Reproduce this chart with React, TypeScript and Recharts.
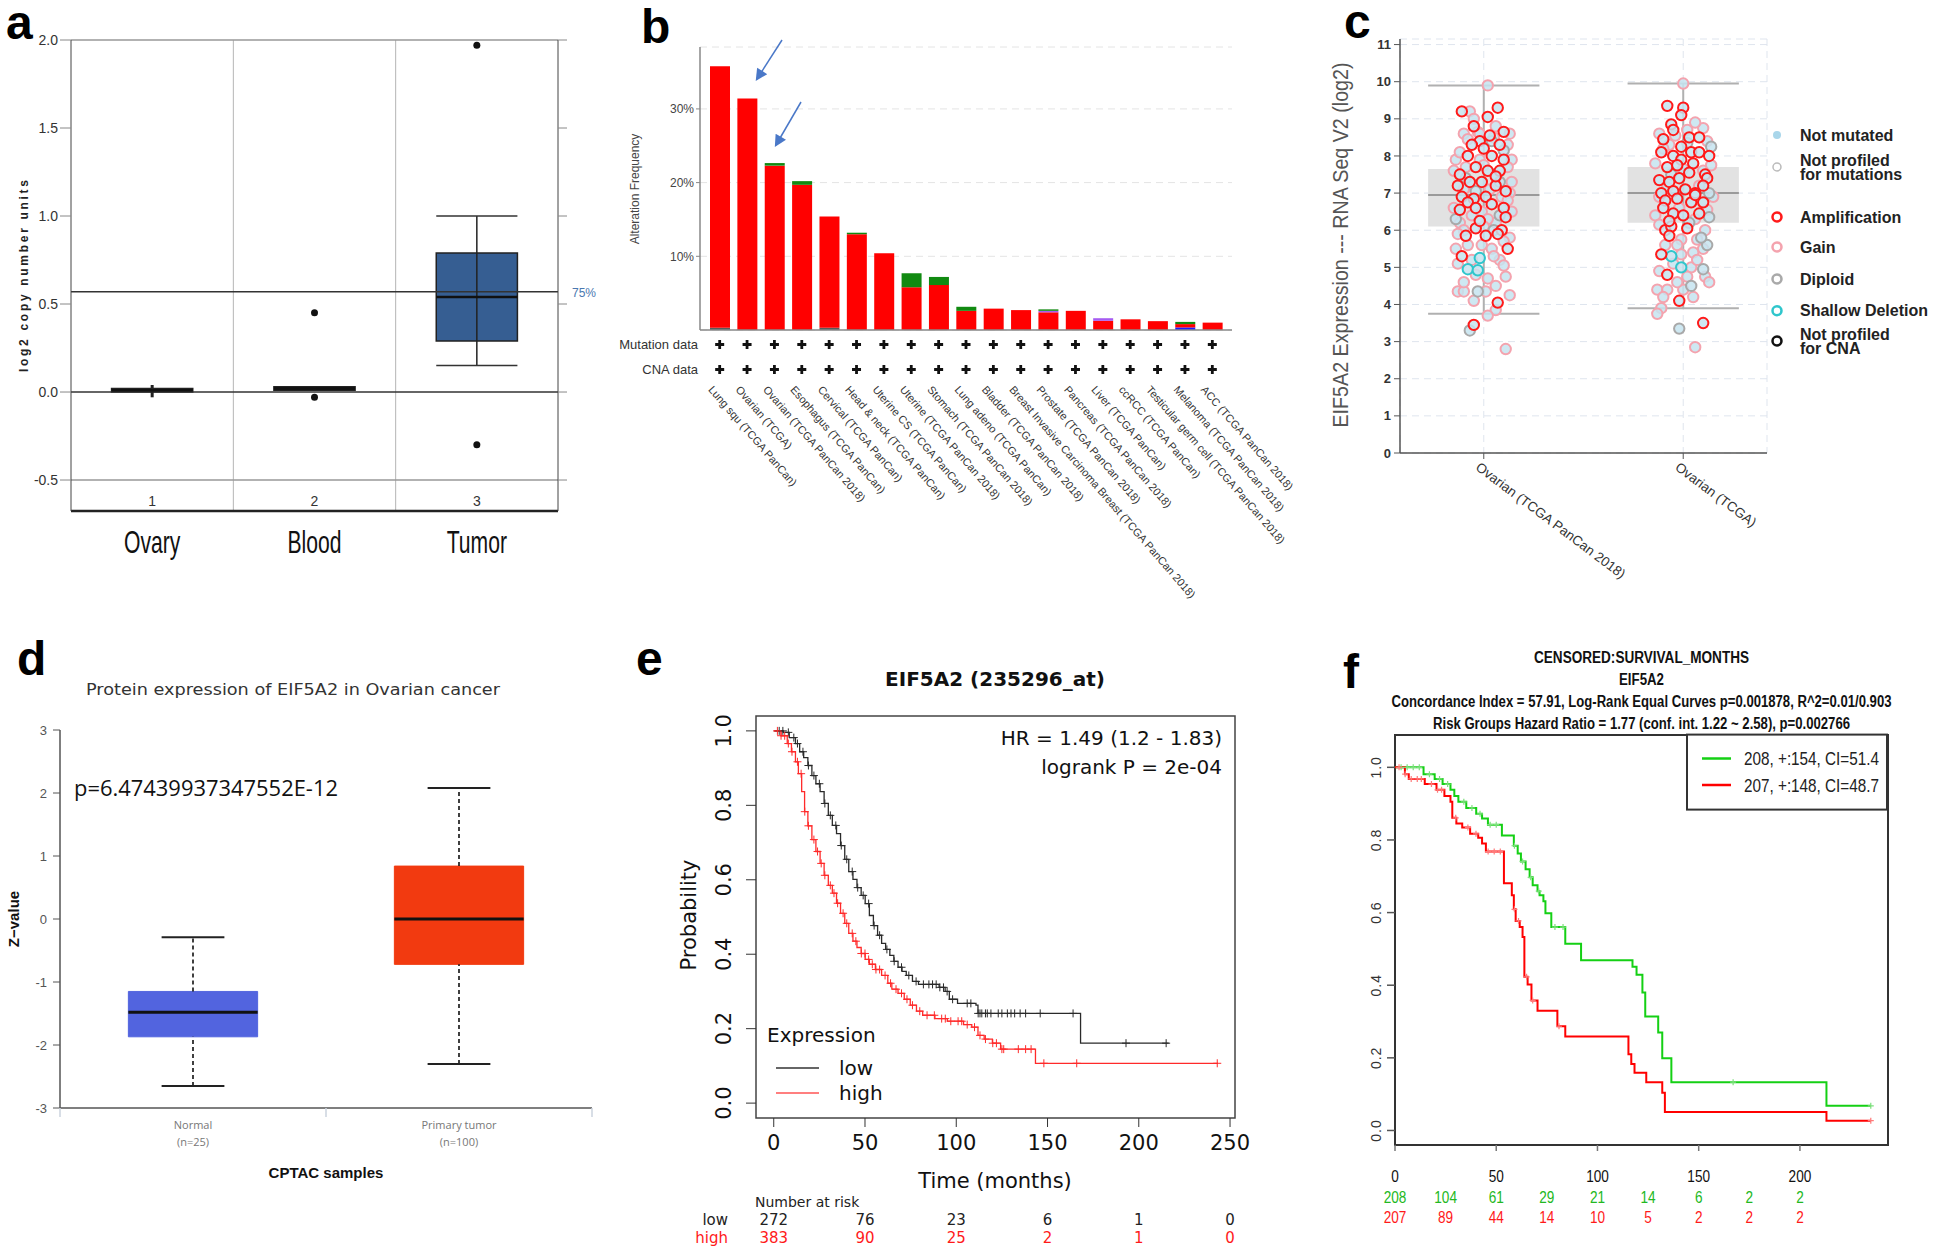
import React from 'react';
import {
  ComposedChart,
  BarChart,
  Bar,
  Line,
  Scatter,
  XAxis,
  YAxis,
  CartesianGrid,
  ReferenceLine,
  ReferenceArea,
} from 'recharts';

const SANS = '"Liberation Sans", Arial, sans-serif';
const DEJAVU = '"DejaVu Sans", sans-serif';
const OPEN = '"Open Sans", sans-serif';

// ---------- panel a : copy number boxplot ----------
const aGroups = ['Ovary', 'Blood', 'Tumor'];
const aTickNums = ['1', '2', '3'];
const aMin = [-0.03, 0.01, 0.15];
const aQ1 = [0.0, 0.01, 0.29];
const aMedian = [0.01, 0.02, 0.54];
const aQ3 = [0.02, 0.03, 0.79];
const aMax = [0.04, 0.03, 1.0];
const aOutlierGroup = [1, 1, 2, 2];
const aOutlierValue = [0.45, -0.03, 1.97, -0.3];
const aThreshold75 = 0.57;
const aYTicks = [-0.5, 0, 0.5, 1, 1.5, 2];

// ---------- panel b : alteration frequency ----------
const bStudies = [
  'Lung squ (TCGA PanCan)',
  'Ovarian (TCGA)',
  'Ovarian (TCGA PanCan 2018)',
  'Esophagus (TCGA PanCan)',
  'Cervical (TCGA PanCan)',
  'Head & neck (TCGA PanCan)',
  'Uterine CS (TCGA PanCan)',
  'Uterine (TCGA PanCan 2018)',
  'Stomach (TCGA PanCan 2018)',
  'Lung adeno (TCGA PanCan)',
  'Bladder (TCGA PanCan 2018)',
  'Breast Invasive Carcinoma Breast (TCGA PanCan 2018)',
  'Prostate (TCGA PanCan 2018)',
  'Pancreas (TCGA PanCan 2018)',
  'Liver (TCGA PanCan)',
  'ccRCC (TCGA PanCan)',
  'Testicular germ cell (TCGA PanCan 2018)',
  'Melanoma (TCGA PanCan 2018)',
  'ACC (TCGA PanCan 2018)',
];
const bMultiple = [0.3, 0, 0, 0, 0.3, 0, 0, 0, 0, 0, 0, 0, 0, 0, 0, 0, 0, 0, 0];
const bDeepDel = [0, 0, 0, 0, 0, 0, 0, 0, 0, 0, 0, 0, 0, 0, 0, 0, 0, 0.35, 0];
const bAmp = [35.5, 31.4, 22.3, 19.7, 15.1, 13.0, 10.4, 5.8, 6.1, 2.6, 2.9, 2.7, 2.4, 2.6, 1.25, 1.45, 1.2, 0.45, 1.0];
const bFusion = [0, 0, 0, 0, 0, 0, 0, 0, 0, 0, 0, 0, 0.2, 0, 0.35, 0, 0, 0, 0];
const bMutation = [0, 0, 0.35, 0.5, 0, 0.2, 0, 1.9, 1.1, 0.55, 0, 0, 0.2, 0, 0, 0, 0, 0.3, 0];
const bYTicks = [10, 20, 30];

// ---------- panel c : expression by CNA ----------
const cStudies = ['Ovarian (TCGA PanCan 2018)', 'Ovarian (TCGA)'];
const cMin = [3.75, 3.9];
const cQ1 = [6.1, 6.2];
const cMedian = [6.95, 7.0];
const cQ3 = [7.65, 7.7];
const cMax = [9.9, 9.95];
const cYTicks = [0, 1, 2, 3, 4, 5, 6, 7, 8, 9, 10, 11];
// [jitter, log2 expression, CNA call]
const cPanCan: [number, number, string][] = [
  [0.02, 9.9, 'G'], [0.07, 9.3, 'A'], [-0.11, 9.2, 'A'], [-0.07, 9.2, 'G'], [0.02, 9.05, 'A'],
  [-0.05, 8.8, 'A'], [0.1, 8.65, 'A'], [-0.1, 8.6, 'G'], [-0.03, 8.65, 'G'], [0.04, 8.4, 'D'],
  [-0.02, 8.4, 'A'], [-0.06, 8.3, 'A'], [0.08, 8.3, 'A'], [0.12, 8.3, 'G'], [0.0, 8.2, 'A'],
  [-0.14, 7.9, 'G'], [-0.08, 8.0, 'A'], [0.04, 8.0, 'A'], [0.1, 7.9, 'A'], [0.14, 7.9, 'G'],
  [-0.02, 7.9, 'G'], [-0.09, 7.7, 'G'], [-0.12, 7.5, 'A'], [-0.04, 7.7, 'A'], [0.02, 7.6, 'A'],
  [0.08, 7.6, 'A'], [-0.09, 7.4, 'D'], [-0.13, 7.2, 'A'], [-0.07, 7.3, 'A'], [-0.01, 7.3, 'A'],
  [0.06, 7.2, 'A'], [0.08, 7.3, 'D'], [0.14, 7.3, 'G'], [0.13, 7.0, 'G'], [-0.11, 6.9, 'A'],
  [-0.05, 6.85, 'A'], [0.01, 6.9, 'A'], [0.11, 7.05, 'A'], [-0.15, 6.6, 'G'], [-0.08, 6.75, 'A'],
  [-0.04, 6.6, 'A'], [0.04, 6.7, 'A'], [0.1, 6.6, 'A'], [-0.01, 6.5, 'G'], [0.14, 6.5, 'G'],
  [-0.14, 6.3, 'D'], [0.11, 6.35, 'A'], [-0.12, 6.2, 'G'], [0.06, 6.2, 'G'], [-0.04, 6.05, 'A'],
  [-0.1, 6.0, 'G'], [0.09, 6.0, 'A'], [-0.09, 5.85, 'A'], [0.01, 5.85, 'A'], [0.07, 5.9, 'A'],
  [0.13, 5.8, 'G'], [-0.01, 5.6, 'G'], [-0.14, 5.5, 'G'], [0.04, 5.5, 'G'], [0.12, 5.5, 'A'],
  [-0.11, 5.3, 'A'], [-0.02, 5.25, 'S'], [-0.06, 5.2, 'G'], [0.08, 5.2, 'G'], [-0.08, 4.95, 'S'],
  [-0.03, 4.92, 'S'], [-0.04, 4.8, 'G'], [0.02, 4.7, 'G'], [0.11, 4.75, 'G'], [-0.13, 4.35, 'G'],
  [-0.1, 4.35, 'G'], [-0.03, 4.35, 'D'], [0.01, 4.35, 'G'], [0.13, 4.25, 'G'], [0.07, 4.05, 'A'],
  [0.06, 3.85, 'G'], [0.02, 3.7, 'G'], [-0.05, 3.45, 'A'], [-0.07, 3.3, 'D'], [0.11, 2.8, 'G'],
  [-0.12, 8.1, 'G'], [0.05, 8.5, 'G'], [0.13, 8.6, 'G'], [-0.05, 9.0, 'G'], [-0.15, 7.6, 'G'],
  [0.0, 7.75, 'G'], [0.12, 7.7, 'G'], [-0.1, 7.1, 'G'], [0.03, 7.1, 'G'], [0.09, 6.9, 'G'],
  [-0.06, 6.4, 'G'], [0.02, 6.3, 'G'], [0.08, 6.4, 'D'], [-0.13, 5.9, 'G'], [0.0, 6.1, 'G'],
  [0.1, 5.7, 'G'], [-0.08, 5.6, 'G'], [0.05, 5.3, 'G'], [-0.13, 5.1, 'G'], [0.1, 5.05, 'G'],
  [-0.1, 4.6, 'G'], [0.06, 4.5, 'G'], [-0.05, 4.1, 'G'], [0.12, 6.8, 'G'], [-0.02, 8.6, 'G'],
  [0.06, 8.8, 'G'], [-0.08, 8.45, 'G'], [0.1, 8.15, 'D'], [-0.04, 7.05, 'D'], [0.05, 6.0, 'D'],
  [-0.12, 6.55, 'A'], [0.06, 7.45, 'A'], [-0.02, 6.25, 'A'], [0.03, 8.55, 'A'],
];
const cTcga: [number, number, string][] = [
  [0.0, 9.95, 'G'], [-0.08, 9.35, 'A'], [0.0, 9.3, 'A'], [-0.01, 9.1, 'A'], [-0.06, 8.85, 'A'],
  [-0.05, 8.7, 'A'], [0.02, 8.7, 'G'], [0.1, 8.75, 'G'], [-0.1, 8.45, 'A'], [0.03, 8.5, 'A'],
  [0.08, 8.5, 'A'], [-0.07, 8.3, 'G'], [-0.01, 8.25, 'A'], [0.14, 8.25, 'D'], [-0.1, 8.2, 'G'],
  [-0.11, 8.1, 'A'], [-0.05, 8.0, 'A'], [0.04, 8.1, 'A'], [0.08, 8.1, 'A'], [0.13, 8.0, 'A'],
  [-0.08, 7.7, 'A'], [-0.01, 7.9, 'A'], [0.05, 7.8, 'A'], [0.1, 7.6, 'G'], [-0.12, 7.35, 'A'],
  [-0.07, 7.3, 'A'], [-0.02, 7.4, 'A'], [0.03, 7.55, 'A'], [0.11, 7.5, 'A'], [0.12, 7.4, 'A'],
  [-0.11, 7.0, 'A'], [-0.05, 7.05, 'A'], [0.01, 7.1, 'A'], [0.06, 7.0, 'A'], [0.13, 7.0, 'D'],
  [-0.12, 6.9, 'G'], [0.15, 6.9, 'G'], [-0.09, 6.8, 'A'], [-0.03, 6.85, 'A'], [0.04, 6.75, 'A'],
  [0.1, 6.75, 'A'], [-0.14, 6.4, 'G'], [-0.05, 6.45, 'A'], [0.0, 6.4, 'A'], [0.08, 6.45, 'A'],
  [0.13, 6.35, 'D'], [0.06, 6.3, 'G'], [-0.09, 6.0, 'A'], [-0.06, 6.1, 'A'], [0.02, 6.05, 'A'],
  [0.11, 6.0, 'G'], [-0.07, 5.85, 'A'], [-0.01, 5.75, 'G'], [0.07, 5.75, 'G'], [-0.03, 5.6, 'G'],
  [0.12, 5.6, 'D'], [0.05, 5.4, 'G'], [-0.11, 5.35, 'A'], [-0.06, 5.3, 'S'], [-0.01, 5.35, 'G'],
  [-0.01, 5.0, 'S'], [0.04, 5.0, 'G'], [0.1, 4.95, 'D'], [-0.08, 4.8, 'A'], [0.02, 4.75, 'G'],
  [0.11, 4.75, 'G'], [0.04, 4.5, 'D'], [-0.13, 4.4, 'G'], [-0.08, 4.4, 'G'], [0.0, 4.4, 'G'],
  [-0.02, 4.1, 'A'], [-0.11, 3.9, 'G'], [-0.13, 3.75, 'G'], [-0.02, 3.35, 'D'], [0.1, 3.5, 'A'],
  [0.06, 2.85, 'G'],
  [-0.12, 8.6, 'G'], [0.06, 8.9, 'G'], [0.12, 8.4, 'G'], [-0.04, 8.55, 'G'], [-0.14, 7.8, 'G'],
  [0.0, 7.65, 'G'], [0.14, 7.75, 'G'], [-0.08, 7.15, 'G'], [0.08, 7.2, 'G'], [-0.02, 6.6, 'G'],
  [0.12, 6.55, 'G'], [-0.12, 6.15, 'G'], [0.03, 6.2, 'D'], [-0.09, 5.6, 'G'], [0.1, 5.5, 'G'],
  [-0.05, 5.1, 'G'], [0.07, 5.2, 'G'], [-0.12, 4.9, 'G'], [0.13, 4.6, 'G'], [-0.03, 4.6, 'G'],
  [0.05, 4.2, 'G'], [-0.1, 4.2, 'G'], [0.09, 5.8, 'D'], [-0.06, 7.5, 'D'], [0.02, 8.35, 'D'],
  [-0.1, 6.6, 'A'], [0.06, 6.95, 'A'], [-0.03, 7.75, 'A'], [0.1, 7.2, 'A'], [-0.07, 6.25, 'A'],
];

// ---------- panel d : CPTAC protein ----------
const dGroups = ['Normal', 'Primary tumor'];
const dCounts = ['(n=25)', '(n=100)'];
const dMin = [-2.65, -2.3];
const dQ1 = [-1.87, -0.72];
const dMedian = [-1.48, 0.0];
const dQ3 = [-1.15, 0.84];
const dMax = [-0.29, 2.08];
const dYTicks = [-3, -2, -1, 0, 1, 2, 3];

// ---------- panel e : KM plotter ----------
const eLowTime = [0, 5.2, 8.5, 11.9, 14.2, 16.4, 18.7, 20.9, 23.1, 25.4, 27.6, 29.9, 32.1, 34.4, 36.6, 38.9, 41.1, 43.4, 45.6, 47.9, 50.1, 52.4, 54.6, 56.9, 59.1, 61.3, 63.6, 65.8, 68.1, 70.3, 72.6, 76.0, 79.3, 90.6, 93.9, 96.2, 100.7, 110.8, 111.9, 168.1, 216.4];
const eLowSurv = [1.0, 0.996, 0.982, 0.966, 0.944, 0.928, 0.907, 0.88, 0.858, 0.837, 0.805, 0.773, 0.746, 0.724, 0.692, 0.655, 0.622, 0.601, 0.579, 0.558, 0.536, 0.504, 0.477, 0.451, 0.429, 0.413, 0.397, 0.381, 0.365, 0.354, 0.343, 0.327, 0.319, 0.311, 0.3, 0.279, 0.268, 0.263, 0.241, 0.161, 0.161];
const eHighTime = [0, 4.0, 7.4, 9.7, 11.9, 13.5, 15.3, 16.9, 18.7, 20.9, 23.1, 25.4, 27.6, 29.9, 32.1, 34.4, 36.6, 38.9, 41.1, 43.4, 45.6, 47.9, 50.1, 52.4, 55.7, 59.1, 62.5, 64.7, 68.1, 71.5, 74.8, 78.2, 81.6, 88.3, 95.1, 104.0, 108.5, 111.9, 115.3, 119.8, 124.3, 143.4, 243.4];
const eHighSurv = [1.0, 0.987, 0.966, 0.944, 0.917, 0.885, 0.837, 0.783, 0.745, 0.708, 0.676, 0.644, 0.612, 0.585, 0.564, 0.537, 0.51, 0.483, 0.456, 0.435, 0.418, 0.402, 0.386, 0.373, 0.359, 0.343, 0.322, 0.306, 0.295, 0.279, 0.263, 0.247, 0.236, 0.227, 0.22, 0.211, 0.204, 0.182, 0.172, 0.161, 0.145, 0.107, 0.107];
const eLowCensor = [3, 5, 8, 11, 13, 16, 19, 22, 25, 28, 31, 34, 37, 40, 43, 46, 49, 52, 55, 58, 62, 66, 70, 74, 78, 82, 85, 87, 89, 91, 93, 95, 98, 106, 108, 112, 113, 114, 116, 117, 119, 123, 125, 128, 130, 132, 135, 138, 146, 164, 193, 215];
const eHighCensor = [2, 4, 6, 8, 10, 13, 15, 17, 19, 22, 24, 26, 28, 31, 33, 35, 38, 40, 43, 45, 48, 50, 52, 54, 56, 58, 61, 64, 67, 70, 73, 76, 80, 84, 88, 92, 94, 97, 101, 103, 106, 110, 113, 116, 120, 122, 125, 126, 134, 138, 141, 148, 166, 243];
const eRiskTimes = [0, 50, 100, 150, 200, 250];
const eRiskLow = [272, 76, 23, 6, 1, 0];
const eRiskHigh = [383, 90, 25, 2, 1, 0];
const eYTicks = [0, 0.2, 0.4, 0.6, 0.8, 1.0];

// ---------- panel f : SurvExpress ----------
const fGreenTime = [0, 14.1, 19.6, 23.5, 27.4, 29.3, 31.3, 35.2, 40.1, 43.0, 45.9, 52.8, 58.7, 60.6, 62.2, 64.5, 66.5, 68.0, 70.4, 71.4, 73.3, 74.3, 77.2, 84.1, 91.9, 117.3, 119.3, 122.2, 123.6, 130.0, 132.0, 136.5, 213.1, 235.1];
const fGreenSurv = [1.0, 0.981, 0.968, 0.954, 0.938, 0.921, 0.905, 0.888, 0.872, 0.859, 0.842, 0.812, 0.784, 0.763, 0.741, 0.719, 0.697, 0.675, 0.659, 0.648, 0.631, 0.598, 0.56, 0.514, 0.469, 0.451, 0.429, 0.38, 0.314, 0.27, 0.199, 0.133, 0.068, 0.068];
const fRedTime = [0, 4.9, 6.8, 14.7, 20.5, 24.4, 27.4, 28.3, 30.3, 33.2, 37.1, 41.1, 43.0, 44.9, 53.8, 57.7, 58.7, 59.6, 61.6, 63.0, 63.9, 65.5, 67.4, 70.4, 80.2, 84.1, 115.3, 116.7, 118.3, 124.1, 132.0, 133.3, 213.1, 235.1];
const fRedSurv = [1.0, 0.981, 0.968, 0.954, 0.938, 0.921, 0.905, 0.861, 0.845, 0.834, 0.817, 0.806, 0.79, 0.768, 0.681, 0.648, 0.609, 0.577, 0.56, 0.533, 0.423, 0.402, 0.358, 0.33, 0.287, 0.259, 0.21, 0.183, 0.159, 0.133, 0.104, 0.051, 0.027, 0.027];
const fGreenCensor = [3, 6, 9, 12, 17, 22, 26, 34, 38, 42, 47, 50, 59, 63, 67, 71, 79, 83, 167, 235];
const fRedCensor = [2, 5, 8, 11, 13, 18, 21, 23, 30, 36, 40, 46, 49, 52, 59, 61, 65, 68, 81, 235];
const fRiskTimes = [0, 25, 50, 75, 100, 125, 150, 175, 200];
const fRiskGreen = [208, 104, 61, 29, 21, 14, 6, 2, 2];
const fRiskRed = [207, 89, 44, 14, 10, 5, 2, 2, 2];
const fYTicks = [0, 0.2, 0.4, 0.6, 0.8, 1.0];

// ---------- helpers ----------
const steps = (t: number[], s: number[]) => t.map((time, i) => ({ t: time, s: s[i] }));
const survivalAt = (t: number[], s: number[], time: number) => {
  let v = s[0];
  t.forEach((tt, i) => {
    if (tt <= time) v = s[i];
  });
  return v;
};
const censorMarks = (t: number[], s: number[], times: number[]) =>
  times.map((time) => ({ t: time, s: survivalAt(t, s, time) }));

const cross = (color: string, half: number, width: number) => (p: any) => (
  <path
    d={`M${p.cx - half},${p.cy}H${p.cx + half}M${p.cx},${p.cy - half}V${p.cy + half}`}
    stroke={color}
    strokeWidth={width}
    fill="none"
  />
);

const dot = (r: number, color: string) => (p: any) => <circle cx={p.cx} cy={p.cy} r={r} fill={color} />;

const CNA_COLORS: Record<string, string> = { A: '#ff1a1a', G: '#f4a3ae', D: '#a9a9a9', S: '#2fc6cc' };
const ring = (stroke: string) => (p: any) => (
  <circle cx={p.cx} cy={p.cy} r={5.2} fill="#c6e4f0" fillOpacity={0.85} stroke={stroke} strokeWidth={2} />
);

const abs = (left: number, top: number): React.CSSProperties => ({ position: 'absolute', left, top });

// ---------- panel a ----------
const A_HALF = 0.25;
const aCapHalf = [0, 0, 0.25];

const ATick = (p: any) => {
  const i = Math.floor(p.payload.value);
  return (
    <g fontFamily={SANS}>
      <text x={p.x} y={p.y - 5} textAnchor="middle" fontSize={14} fill="#333">
        {aTickNums[i]}
      </text>
      <text transform={`translate(${p.x},${p.y + 42}) scale(0.66,1)`} textAnchor="middle" fontSize={32} fill="#111">
        {aGroups[i]}
      </text>
    </g>
  );
};

function PanelA() {
  const outliers = aOutlierGroup.map((g, i) => ({ x: g + 0.5, y: aOutlierValue[i] }));
  return (
    <div style={abs(11, 30)}>
      <ComposedChart width={567} height={531} margin={{ top: 10, right: 0, bottom: 0, left: 0 }}>
        <XAxis
          type="number"
          dataKey="x"
          domain={[0, 3]}
          allowDataOverflow
          ticks={[0.5, 1.5, 2.5]}
          interval={0}
          height={50}
          tickSize={0}
          tickMargin={0}
          tickLine={false}
          axisLine={{ stroke: '#222', strokeWidth: 2.5 }}
          tick={<ATick />}
        />
        <YAxis
          type="number"
          dataKey="y"
          domain={[-0.676, 2]}
          allowDataOverflow
          ticks={aYTicks}
          interval={0}
          width={60}
          tickSize={11}
          tickMargin={2}
          tickFormatter={(v: number) => v.toFixed(1)}
          tick={{ fontSize: 14, fill: '#333', fontFamily: SANS }}
          axisLine={{ stroke: '#444' }}
          tickLine={{ stroke: '#888' }}
        />
        <YAxis
          yAxisId="r"
          orientation="right"
          type="number"
          domain={[-0.676, 2]}
          allowDataOverflow
          ticks={aYTicks}
          interval={0}
          width={20}
          tickSize={9}
          tickFormatter={() => ''}
          axisLine={{ stroke: '#444' }}
          tickLine={{ stroke: '#888' }}
        />
        <ReferenceLine x={1} stroke="#b5b5b5" />
        <ReferenceLine x={2} stroke="#b5b5b5" />
        <ReferenceLine y={2} stroke="#999" strokeWidth={1.5} />
        <ReferenceLine y={-0.5} stroke="#999" strokeWidth={1.5} />
        <ReferenceLine y={0} stroke="#333" strokeWidth={1.5} />
        <ReferenceLine y={aThreshold75} stroke="#333" strokeWidth={1.5} />
        {aGroups.map((g, i) => {
          const c = i + 0.5;
          return (
            <React.Fragment key={g}>
              <ReferenceLine segment={[{ x: c, y: aMin[i] }, { x: c, y: aMax[i] }]} stroke="#222" strokeWidth={i === 2 ? 1.5 : 3} />
              {aCapHalf[i] > 0 && (
                <ReferenceLine segment={[{ x: c - aCapHalf[i], y: aMin[i] }, { x: c + aCapHalf[i], y: aMin[i] }]} stroke="#333" strokeWidth={1.5} />
              )}
              {aCapHalf[i] > 0 && (
                <ReferenceLine segment={[{ x: c - aCapHalf[i], y: aMax[i] }, { x: c + aCapHalf[i], y: aMax[i] }]} stroke="#333" strokeWidth={1.5} />
              )}
              <ReferenceArea
                x1={c - A_HALF}
                x2={c + A_HALF}
                y1={aQ1[i]}
                y2={aQ3[i]}
                fill={i === 2 ? '#365e92' : '#111'}
                fillOpacity={1}
                stroke="#222"
                strokeWidth={1.5}
              />
              <ReferenceLine segment={[{ x: c - A_HALF, y: aMedian[i] }, { x: c + A_HALF, y: aMedian[i] }]} stroke="#111" strokeWidth={2.5} />
            </React.Fragment>
          );
        })}
        <Scatter data={outliers} shape={dot(3.5, '#111')} isAnimationActive={false} />
      </ComposedChart>
    </div>
  );
}

// ---------- panel b ----------
const PlusMark = ({ x, y }: { x: number; y: number }) => (
  <path d={`M${x - 4.5},${y}H${x + 4.5}M${x},${y - 4.5}V${y + 4.5}`} stroke="#111" strokeWidth={2.8} />
);

const BTick = (p: any) => (
  <g>
    <PlusMark x={p.x} y={p.y + 14.5} />
    <PlusMark x={p.x} y={p.y + 39.5} />
    <text transform={`translate(${p.x - 12},${p.y + 60}) rotate(49)`} fontSize={11} fill="#333" fontFamily={SANS}>
      {p.payload.value}
    </text>
  </g>
);

function PanelB() {
  const data = bStudies.map((name, i) => ({
    name,
    multiple: bMultiple[i],
    deep: bDeepDel[i],
    amp: bAmp[i],
    fusion: bFusion[i],
    mutation: bMutation[i],
  }));
  return (
    <div style={abs(640, 37)}>
      <BarChart width={672} height={593} data={data} margin={{ top: 10, right: 80, bottom: 0, left: 0 }} barSize={20}>
        <CartesianGrid vertical={false} stroke="#e4e4e4" strokeDasharray="7 5" />
        <XAxis
          dataKey="name"
          interval={0}
          height={300}
          padding={{ left: 6, right: 6 }}
          tickSize={0}
          tickMargin={0}
          tickLine={false}
          axisLine={{ stroke: '#888', strokeWidth: 1.5 }}
          tick={<BTick />}
        />
        <YAxis
          domain={[0, 38.4]}
          allowDataOverflow
          ticks={bYTicks}
          interval={0}
          width={60}
          tickSize={4}
          tickMargin={2}
          tickFormatter={(v: number) => `${v}%`}
          tick={{ fontSize: 12, fill: '#444', fontFamily: SANS }}
          axisLine={{ stroke: '#888', strokeWidth: 1.5 }}
          tickLine={{ stroke: '#888' }}
        />
        <Bar dataKey="multiple" stackId="s" fill="#5a5a5a" isAnimationActive={false} />
        <Bar dataKey="deep" stackId="s" fill="#1a1aff" isAnimationActive={false} />
        <Bar dataKey="amp" stackId="s" fill="#ff0000" isAnimationActive={false} />
        <Bar dataKey="fusion" stackId="s" fill="#a65cf2" isAnimationActive={false} />
        <Bar dataKey="mutation" stackId="s" fill="#118a11" isAnimationActive={false} />
      </BarChart>
    </div>
  );
}

// ---------- panel c ----------
const C_HALF = 0.279;

const CTick = (p: any) => (
  <text transform={`translate(${p.x - 9},${p.y + 10}) rotate(37)`} fontSize={13.5} fill="#333" fontFamily={SANS}>
    {cStudies[p.payload.value - 1]}
  </text>
);

function PanelC() {
  const points = [...cPanCan.map((d) => [1 + d[0], d[1], d[2]] as const), ...cTcga.map((d) => [2 + d[0], d[1], d[2]] as const)];
  const byType = (k: string) => points.filter((d) => d[2] === k).map((d) => ({ x: d[0], y: d[1] }));
  return (
    <div style={abs(1350, 28.8)}>
      <ComposedChart width={427} height={614} margin={{ top: 10, right: 10, bottom: 0, left: 0 }}>
        <CartesianGrid stroke="#dfe5ee" strokeDasharray="7 5" />
        <XAxis
          type="number"
          dataKey="x"
          domain={[0.58, 2.42]}
          allowDataOverflow
          ticks={[1, 2]}
          interval={0}
          height={190}
          tickSize={6}
          tickMargin={0}
          axisLine={{ stroke: '#555', strokeWidth: 1.5 }}
          tickLine={{ stroke: '#555' }}
          tick={<CTick />}
        />
        <YAxis
          type="number"
          dataKey="y"
          domain={[0, 11.15]}
          allowDataOverflow
          ticks={cYTicks}
          interval={0}
          width={50}
          tickSize={6}
          tickMargin={3}
          tick={{ fontSize: 13, fill: '#333', fontWeight: 'bold', fontFamily: SANS }}
          axisLine={{ stroke: '#555', strokeWidth: 1.5 }}
          tickLine={{ stroke: '#555' }}
        />
        {cStudies.map((s, i) => {
          const c = i + 1;
          return (
            <React.Fragment key={s}>
              <ReferenceArea x1={c - C_HALF} x2={c + C_HALF} y1={cQ1[i]} y2={cQ3[i]} fill="#e2e2e2" fillOpacity={1} stroke="none" />
              <ReferenceLine segment={[{ x: c, y: cMin[i] }, { x: c, y: cMax[i] }]} stroke="#b0b0b0" strokeWidth={2} />
              <ReferenceLine segment={[{ x: c - C_HALF, y: cMin[i] }, { x: c + C_HALF, y: cMin[i] }]} stroke="#b0b0b0" strokeWidth={2} />
              <ReferenceLine segment={[{ x: c - C_HALF, y: cMax[i] }, { x: c + C_HALF, y: cMax[i] }]} stroke="#b0b0b0" strokeWidth={2} />
              <ReferenceLine segment={[{ x: c - C_HALF, y: cMedian[i] }, { x: c + C_HALF, y: cMedian[i] }]} stroke="#9a9a9a" strokeWidth={2} />
            </React.Fragment>
          );
        })}
        <Scatter data={byType('G')} shape={ring(CNA_COLORS.G)} isAnimationActive={false} />
        <Scatter data={byType('D')} shape={ring(CNA_COLORS.D)} isAnimationActive={false} />
        <Scatter data={byType('S')} shape={ring(CNA_COLORS.S)} isAnimationActive={false} />
        <Scatter data={byType('A')} shape={ring(CNA_COLORS.A)} isAnimationActive={false} />
      </ComposedChart>
    </div>
  );
}

// ---------- panel d ----------
const D_HALF = 0.243;
const D_CAP = 0.118;
const dFill = ['#5264df', '#f23a10'];

const DTick = (p: any) => {
  const v = p.payload.value;
  if (Number.isInteger(v)) {
    return <line x1={p.x} x2={p.x} y1={p.y} y2={p.y + 9} stroke="#cbd3de" strokeWidth={1.5} />;
  }
  const i = Math.floor(v);
  return (
    <g fontFamily={OPEN} fontSize={11} fill="#777" textAnchor="middle">
      <text x={p.x} y={p.y + 21}>{dGroups[i]}</text>
      <text x={p.x} y={p.y + 38}>{dCounts[i]}</text>
    </g>
  );
};

function PanelD() {
  return (
    <div style={abs(10, 720.4)}>
      <ComposedChart width={602} height={438} margin={{ top: 10, right: 20, bottom: 0, left: 0 }}>
        <XAxis
          type="number"
          dataKey="x"
          domain={[0, 2]}
          allowDataOverflow
          ticks={[0, 0.5, 1, 1.5, 2]}
          interval={0}
          height={50}
          tickSize={0}
          tickMargin={0}
          tickLine={false}
          axisLine={{ stroke: '#555', strokeWidth: 1.5 }}
          tick={<DTick />}
        />
        <YAxis
          type="number"
          dataKey="y"
          domain={[-3, 3]}
          allowDataOverflow
          ticks={dYTicks}
          interval={0}
          width={50}
          tickSize={7}
          tickMargin={6}
          tick={{ fontSize: 13, fill: '#555', fontFamily: SANS }}
          axisLine={{ stroke: '#555', strokeWidth: 1.5 }}
          tickLine={{ stroke: '#555' }}
        />
        {dGroups.map((g, i) => {
          const c = i + 0.5;
          return (
            <React.Fragment key={g}>
              <ReferenceLine segment={[{ x: c, y: dQ3[i] }, { x: c, y: dMax[i] }]} stroke="#111" strokeWidth={1.6} strokeDasharray="4 3" />
              <ReferenceLine segment={[{ x: c, y: dMin[i] }, { x: c, y: dQ1[i] }]} stroke="#111" strokeWidth={1.6} strokeDasharray="4 3" />
              <ReferenceLine segment={[{ x: c - D_CAP, y: dMax[i] }, { x: c + D_CAP, y: dMax[i] }]} stroke="#222" strokeWidth={2} />
              <ReferenceLine segment={[{ x: c - D_CAP, y: dMin[i] }, { x: c + D_CAP, y: dMin[i] }]} stroke="#222" strokeWidth={2} />
              <ReferenceArea x1={c - D_HALF} x2={c + D_HALF} y1={dQ1[i]} y2={dQ3[i]} fill={dFill[i]} fillOpacity={1} stroke={dFill[i]} />
              <ReferenceLine segment={[{ x: c - D_HALF, y: dMedian[i] }, { x: c + D_HALF, y: dMedian[i] }]} stroke="#111" strokeWidth={3} />
            </React.Fragment>
          );
        })}
      </ComposedChart>
    </div>
  );
}

// ---------- panel e ----------
const ETick = (p: any) => {
  const i = eRiskTimes.indexOf(p.payload.value);
  return (
    <g fontFamily={DEJAVU} textAnchor="middle" dominantBaseline="central">
      <text x={p.x} y={p.y + 16} fontSize={21} fill="#111">{p.payload.value}</text>
      <text x={p.x} y={p.y + 93} fontSize={15} fill="#222">{eRiskLow[i]}</text>
      <text x={p.x} y={p.y + 110.5} fontSize={15} fill="#ff1a1a">{eRiskHigh[i]}</text>
    </g>
  );
};

const EYTick = (p: any) => (
  <text
    transform={`translate(${p.x - 22},${p.y}) rotate(-90)`}
    textAnchor="middle"
    dominantBaseline="central"
    fontSize={21}
    fill="#111"
    fontFamily={DEJAVU}
  >
    {p.payload.value.toFixed(1)}
  </text>
);

function PanelE() {
  return (
    <div style={abs(696, 706.4)}>
      <ComposedChart width={559} height={547} margin={{ top: 10, right: 20, bottom: 0, left: 0 }}>
        <XAxis
          type="number"
          dataKey="t"
          domain={[-9.72, 252.72]}
          allowDataOverflow
          ticks={eRiskTimes}
          interval={0}
          height={135}
          tickSize={9}
          tickMargin={0}
          axisLine={false}
          tickLine={{ stroke: '#333' }}
          tick={<ETick />}
        />
        <YAxis
          type="number"
          dataKey="s"
          domain={[-0.04, 1.04]}
          allowDataOverflow
          ticks={eYTicks}
          interval={0}
          width={60}
          tickSize={10}
          tickMargin={0}
          axisLine={false}
          tickLine={{ stroke: '#333' }}
          tick={<EYTick />}
        />
        <ReferenceArea x1={-9.72} x2={252.72} y1={-0.04} y2={1.04} fill="none" stroke="#444" strokeWidth={1.5} ifOverflow="visible" />
        <Line data={steps(eLowTime, eLowSurv)} dataKey="s" type="stepAfter" stroke="#2a2a2a" strokeWidth={1.3} dot={false} activeDot={false} isAnimationActive={false} />
        <Line data={steps(eHighTime, eHighSurv)} dataKey="s" type="stepAfter" stroke="#ff2a2a" strokeWidth={1.3} dot={false} activeDot={false} isAnimationActive={false} />
        <Scatter data={censorMarks(eLowTime, eLowSurv, eLowCensor)} shape={cross('#2a2a2a', 4, 1)} isAnimationActive={false} />
        <Scatter data={censorMarks(eHighTime, eHighSurv, eHighCensor)} shape={cross('#ff2a2a', 4, 1)} isAnimationActive={false} />
      </ComposedChart>
    </div>
  );
}

// ---------- panel f ----------
const FTick = (p: any) => {
  const v = p.payload.value;
  const i = fRiskTimes.indexOf(v);
  const major = v % 50 === 0;
  return (
    <g fontFamily={SANS} textAnchor="middle" dominantBaseline="central">
      {major && <line x1={p.x} x2={p.x} y1={p.y} y2={p.y + 6} stroke="#777" strokeWidth={1.5} />}
      {major && (
        <text transform={`translate(${p.x},${p.y + 32}) scale(0.85,1)`} fontSize={16} fill="#111">
          {v}
        </text>
      )}
      <text transform={`translate(${p.x},${p.y + 53}) scale(0.85,1)`} fontSize={16} fill="#22b822">
        {fRiskGreen[i]}
      </text>
      <text transform={`translate(${p.x},${p.y + 73}) scale(0.85,1)`} fontSize={16} fill="#ff1a1a">
        {fRiskRed[i]}
      </text>
    </g>
  );
};

const FYTick = (p: any) => (
  <text
    transform={`translate(${p.x - 11},${p.y}) rotate(-90)`}
    textAnchor="middle"
    dominantBaseline="central"
    fontSize={14}
    letterSpacing={1}
    fill="#333"
    fontFamily={SANS}
  >
    {p.payload.value.toFixed(1)}
  </text>
);

function PanelF() {
  return (
    <div style={abs(1344.5, 724.6)}>
      <ComposedChart width={563} height={520} margin={{ top: 10, right: 20, bottom: 0, left: 0 }}>
        <XAxis
          type="number"
          dataKey="t"
          domain={[0, 243.5]}
          allowDataOverflow
          ticks={fRiskTimes}
          interval={0}
          height={100}
          tickSize={0}
          tickMargin={0}
          tickLine={false}
          axisLine={false}
          tick={<FTick />}
        />
        <YAxis
          type="number"
          dataKey="s"
          domain={[-0.04, 1.089]}
          allowDataOverflow
          ticks={fYTicks}
          interval={0}
          width={50}
          tickSize={8}
          tickMargin={0}
          axisLine={false}
          tickLine={{ stroke: '#555', strokeWidth: 1.5 }}
          tick={<FYTick />}
        />
        <ReferenceArea x1={0} x2={243.5} y1={-0.04} y2={1.089} fill="none" stroke="#333" strokeWidth={2} ifOverflow="visible" />
        <Line data={steps(fGreenTime, fGreenSurv)} dataKey="s" type="stepAfter" stroke="#14d014" strokeWidth={2} dot={false} activeDot={false} isAnimationActive={false} />
        <Line data={steps(fRedTime, fRedSurv)} dataKey="s" type="stepAfter" stroke="#ff0000" strokeWidth={2} dot={false} activeDot={false} isAnimationActive={false} />
        <Scatter data={censorMarks(fGreenTime, fGreenSurv, fGreenCensor)} shape={cross('#7ee07e', 3, 1.2)} isAnimationActive={false} />
        <Scatter data={censorMarks(fRedTime, fRedSurv, fRedCensor)} shape={cross('#ff7a7a', 3, 1.2)} isAnimationActive={false} />
      </ComposedChart>
    </div>
  );
}

// ---------- free text, legends, panel letters ----------
function Overlay() {
  const legendC = [
    { y: 217, color: CNA_COLORS.A, lines: ['Amplification'] },
    { y: 247, color: CNA_COLORS.G, lines: ['Gain'] },
    { y: 279, color: '#a9a9a9', lines: ['Diploid'] },
    { y: 310.7, color: CNA_COLORS.S, lines: ['Shallow Deletion'] },
    { y: 341, color: '#111', lines: ['Not profiled', 'for CNA'] },
  ];
  return (
    <svg width={1960} height={1253} style={{ position: 'absolute', left: 0, top: 0, pointerEvents: 'none' }}>
      <defs>
        <marker id="blueHead" viewBox="0 0 10 10" refX="8" refY="5" markerUnits="userSpaceOnUse" markerWidth="14" markerHeight="12" orient="auto">
          <path d="M0,0 L10,5 L0,10 z" fill="#4a78c8" />
        </marker>
      </defs>

      <g fontFamily={SANS} fontWeight="bold" fontSize={48} fill="#000">
        <text x={6} y={39}>a</text>
        <text x={641} y={43}>b</text>
        <text x={1344} y={38}>c</text>
        <text x={17} y={675}>d</text>
        <text x={636} y={675}>e</text>
        <text x={1343} y={688}>f</text>
      </g>

      {/* a */}
      <text
        transform="translate(24,276) rotate(-90)"
        textAnchor="middle"
        dominantBaseline="central"
        fontFamily={SANS}
        fontWeight="bold"
        fontSize={12}
        fill="#222"
        textLength={192}
        lengthAdjust="spacing"
      >
        log2 copy number units
      </text>
      <text x={572} y={297} fontFamily={SANS} fontSize={12} fill="#4a78b0">75%</text>

      {/* b */}
      <text transform="translate(635,189) rotate(-90)" textAnchor="middle" dominantBaseline="central" fontFamily={SANS} fontSize={12} fill="#444">
        Alteration Frequency
      </text>
      <g fontFamily={SANS} fontSize={13} fill="#333" textAnchor="end" dominantBaseline="central">
        <text x={698} y={344}>Mutation data</text>
        <text x={698} y={369}>CNA data</text>
      </g>
      <line x1={782} y1={40} x2={757} y2={79} stroke="#4a78c8" strokeWidth={1.5} markerEnd="url(#blueHead)" />
      <line x1={801} y1={102} x2={776} y2={145} stroke="#4a78c8" strokeWidth={1.5} markerEnd="url(#blueHead)" />

      {/* c */}
      <text
        transform="translate(1340,245) rotate(-90)"
        textAnchor="middle"
        dominantBaseline="central"
        fontFamily={SANS}
        fontSize={22}
        fill="#555"
        textLength={365}
        lengthAdjust="spacingAndGlyphs"
      >
        EIF5A2 Expression --- RNA Seq V2 (log2)
      </text>
      <g fontFamily={SANS} fontSize={16} fontWeight="bold" fill="#222" dominantBaseline="central">
        <circle cx={1777} cy={135} r={4} fill="#a9d6ea" />
        <text x={1800} y={135}>Not mutated</text>
        <circle cx={1777} cy={167} r={4} fill="none" stroke="#bbbbbb" strokeWidth={1.5} />
        <text x={1800} y={160.5}>Not profiled</text>
        <text x={1800} y={174}>for mutations</text>
        {legendC.map((l) => (
          <g key={l.lines[0]}>
            <circle cx={1777} cy={l.y} r={4.5} fill="none" stroke={l.color} strokeWidth={2.5} />
            {l.lines.length === 1 ? (
              <text x={1800} y={l.y}>{l.lines[0]}</text>
            ) : (
              <>
                <text x={1800} y={l.y - 6.5}>{l.lines[0]}</text>
                <text x={1800} y={l.y + 7}>{l.lines[1]}</text>
              </>
            )}
          </g>
        ))}
      </g>

      {/* d */}
      <text x={86} y={689} dominantBaseline="central" fontFamily={DEJAVU} fontSize={16} fill="#333" textLength={414} lengthAdjust="spacingAndGlyphs">
        Protein expression of EIF5A2 in Ovarian cancer
      </text>
      <text x={74} y={788} dominantBaseline="central" fontFamily={OPEN} fontSize={21} fill="#111" textLength={264} lengthAdjust="spacingAndGlyphs">
        p=6.47439937347552E-12
      </text>
      <text transform="translate(13,919) rotate(-90)" textAnchor="middle" dominantBaseline="central" fontFamily={SANS} fontWeight="bold" fontSize={15} fill="#111">
        Z−value
      </text>
      <text x={326} y={1172} textAnchor="middle" dominantBaseline="central" fontFamily={SANS} fontWeight="bold" fontSize={15} fill="#111">
        CPTAC samples
      </text>

      {/* e */}
      <g fontFamily={DEJAVU} fill="#111" dominantBaseline="central">
        <text x={995} y={679} textAnchor="middle" fontWeight="bold" fontSize={20}>EIF5A2 (235296_at)</text>
        <text x={1222} y={738} textAnchor="end" fontSize={20}>HR = 1.49 (1.2 - 1.83)</text>
        <text x={1222} y={767} textAnchor="end" fontSize={20}>logrank P = 2e-04</text>
        <text transform="translate(689,915) rotate(-90)" textAnchor="middle" fontSize={21}>Probability</text>
        <text x={995} y={1181} textAnchor="middle" fontSize={21}>Time (months)</text>
        <text x={767} y={1035} fontSize={20}>Expression</text>
        <text x={839} y={1068} fontSize={20}>low</text>
        <text x={839} y={1093} fontSize={20}>high</text>
        <text x={755} y={1202} fontSize={14} fill="#222">Number at risk</text>
        <text x={728} y={1220} fontSize={15} textAnchor="end" fill="#222">low</text>
        <text x={728} y={1237.5} fontSize={15} textAnchor="end" fill="#ff1a1a">high</text>
      </g>
      <line x1={776} x2={819} y1={1068} y2={1068} stroke="#333" strokeWidth={1.5} />
      <line x1={776} x2={819} y1={1093} y2={1093} stroke="#ff7f7f" strokeWidth={2} />

      {/* f */}
      <g fontFamily={SANS} fontWeight="bold" fontSize={16} fill="#111" textAnchor="middle" dominantBaseline="central">
        <text x={1641.5} y={657} textLength={215} lengthAdjust="spacingAndGlyphs">CENSORED:SURVIVAL_MONTHS</text>
        <text x={1641.5} y={679.5} textLength={45} lengthAdjust="spacingAndGlyphs">EIF5A2</text>
        <text x={1641.5} y={701} textLength={500} lengthAdjust="spacingAndGlyphs">
          Concordance Index = 57.91, Log-Rank Equal Curves p=0.001878, R^2=0.01/0.903
        </text>
        <text x={1641.5} y={723.5} textLength={417} lengthAdjust="spacingAndGlyphs">
          Risk Groups Hazard Ratio = 1.77 (conf. int. 1.22 ~ 2.58), p=0.002766
        </text>
      </g>
      <rect x={1687} y={734.6} width={200} height={75} fill="#fff" stroke="#333" strokeWidth={2} />
      <line x1={1702} x2={1731} y1={758.5} y2={758.5} stroke="#14d014" strokeWidth={2.5} />
      <line x1={1702} x2={1731} y1={785} y2={785} stroke="#ff0000" strokeWidth={2.5} />
      <g fontFamily={SANS} fontSize={19} fill="#222" dominantBaseline="central">
        <text x={1744} y={758.5} textLength={135} lengthAdjust="spacingAndGlyphs">208, +:154, CI=51.4</text>
        <text x={1744} y={785} textLength={135} lengthAdjust="spacingAndGlyphs">207, +:148, CI=48.7</text>
      </g>
    </svg>
  );
}

export default function App() {
  return (
    <div style={{ position: 'absolute', left: 0, top: 0, width: 1960, height: 1253, background: '#fff', overflow: 'hidden' }}>
      <PanelA />
      <PanelB />
      <PanelC />
      <PanelD />
      <PanelE />
      <PanelF />
      <Overlay />
    </div>
  );
}
